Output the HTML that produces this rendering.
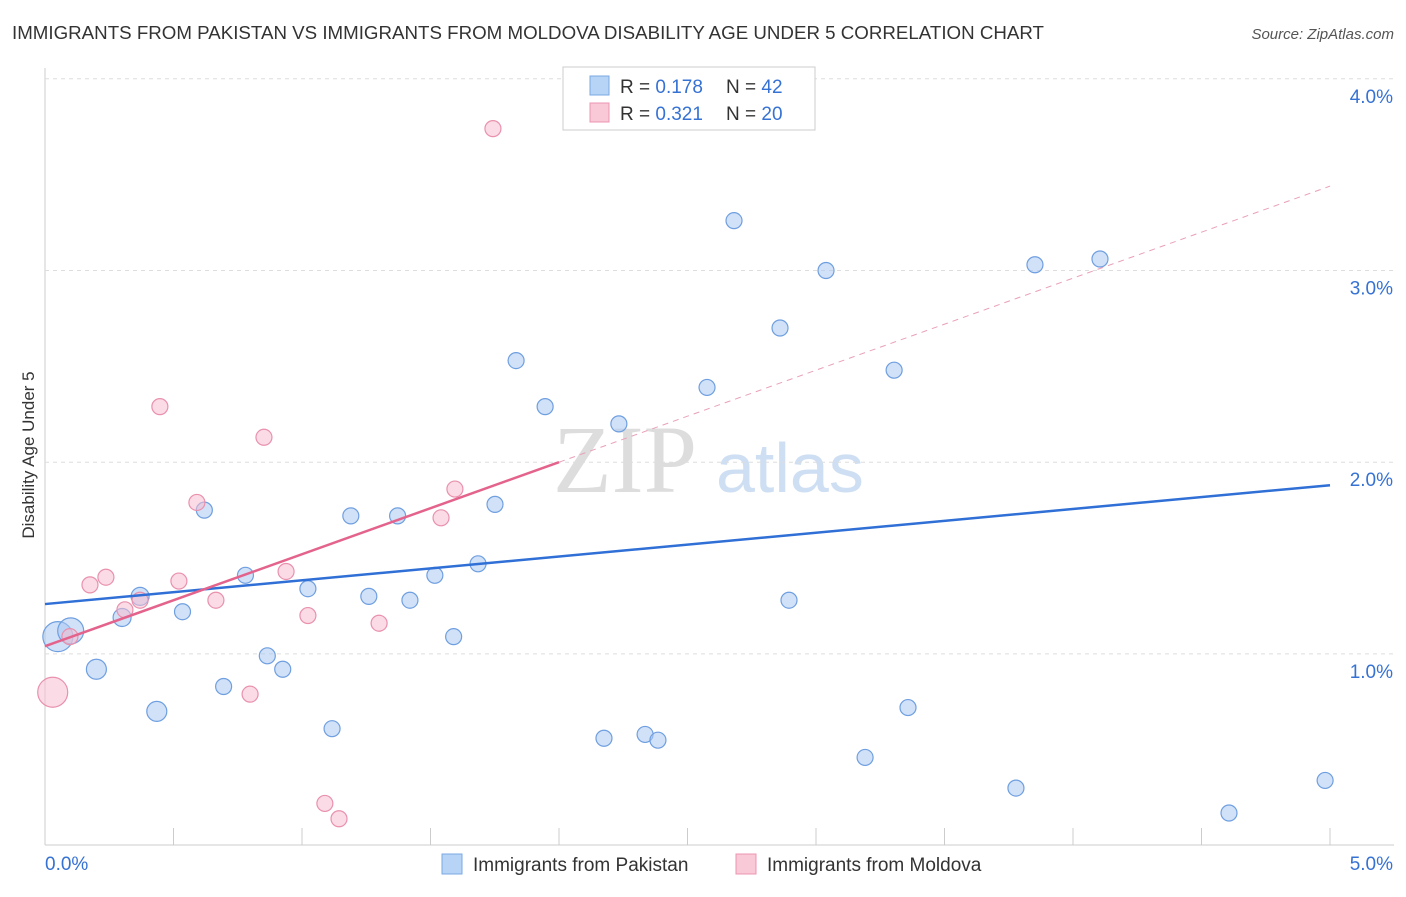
<!DOCTYPE html>
<html><head><meta charset="utf-8"><style>
body{margin:0;background:#fff;font-family:"Liberation Sans",sans-serif}
</style></head><body>
<svg id="c" width="1406" height="892" xmlns="http://www.w3.org/2000/svg" font-family="Liberation Sans, sans-serif">
<text x="12" y="39" font-size="18" fill="#333" textLength="1032" lengthAdjust="spacingAndGlyphs">IMMIGRANTS FROM PAKISTAN VS IMMIGRANTS FROM MOLDOVA DISABILITY AGE UNDER 5 CORRELATION CHART</text>
<text x="1394" y="39" font-size="15" fill="#555" text-anchor="end" font-style="italic">Source: ZipAtlas.com</text>
<text x="34" y="455" font-size="17" fill="#333" transform="rotate(-90 34 455)" text-anchor="middle">Disability Age Under 5</text>
<text x="553" y="492" font-size="96" fill="#ddd" font-family="Liberation Serif, serif">ZIP</text>
<text x="716" y="492" font-size="70" fill="#cfdff3">atlas</text>
<g id="grid"></g><g id="marks"></g>
<g>
<rect x="563" y="67" width="252" height="63" fill="#fff" stroke="#ccc"/>
<rect x="590" y="76" width="19" height="19" fill="#b7d3f5" stroke="#7aa9e4"/>
<rect x="590" y="103" width="19" height="19" fill="#f9c9d7" stroke="#ec95b0"/>
<text x="620" y="93" font-size="19" fill="#333">R = <tspan fill="#3672d4">0.178</tspan></text>
<text x="726" y="93" font-size="19" fill="#333">N = <tspan fill="#3672d4">42</tspan></text>
<text x="620" y="120" font-size="19" fill="#333">R = <tspan fill="#3672d4">0.321</tspan></text>
<text x="726" y="120" font-size="19" fill="#333">N = <tspan fill="#3672d4">20</tspan></text>
</g>
<g>
<rect x="442" y="854" width="20" height="20" fill="#b7d3f5" stroke="#7aa9e4"/>
<text x="473" y="871" font-size="19" fill="#333">Immigrants from Pakistan</text>
<rect x="736" y="854" width="20" height="20" fill="#f9c9d7" stroke="#ec95b0"/>
<text x="767" y="871" font-size="19" fill="#333">Immigrants from Moldova</text>
</g>
</svg>
<script>
const yTicks=[1,2,3,4];
const xTickLabels=["0.0%","5.0%"];
const pakX=[0.05,0.1,0.2,0.3,0.37,0.435,0.535,0.62,0.695,0.78,0.865,0.925,1.023,1.117,1.19,1.26,1.372,1.42,1.517,1.59,1.685,1.751,1.833,1.946,2.175,2.233,2.335,2.385,2.576,2.681,2.86,2.895,3.039,3.191,3.304,3.358,3.778,3.852,4.105,4.607,4.981];
const pakY=[1.09,1.12,0.92,1.19,1.3,0.7,1.22,1.75,0.83,1.41,0.99,0.92,1.34,0.61,1.72,1.3,1.72,1.28,1.41,1.09,1.47,1.78,2.53,2.29,0.56,2.2,0.58,0.55,2.39,3.26,2.7,1.28,3.0,0.46,2.48,0.72,0.3,3.03,3.06,0.17,0.34];
const pakR=[15,13,10,9,9,10,8,8,8,8,8,8,8,8,8,8,8,8,8,8,8,8,8,8,8,8,8,8,8,8,8,8,8,8,8,8,8,8,8,8,8];
const molX=[0.03,0.097,0.175,0.237,0.311,0.37,0.447,0.521,0.591,0.665,0.798,0.852,0.938,1.023,1.089,1.144,1.3,1.541,1.595,1.743];
const molY=[0.8,1.09,1.36,1.4,1.23,1.28,2.29,1.38,1.79,1.28,0.79,2.13,1.43,1.2,0.22,0.14,1.16,1.71,1.86,3.74];
const molR=[15,8,8,8,8,8,8,8,8,8,8,8,8,8,8,8,8,8,8,8];
const pakTrend=[0,1.26,5,1.88];
const molTrend=[0,1.04,2,2.0,5,3.44];
const X=v=>45+v*257, Y=v=>845.6-v*191.7;
const NS="http://www.w3.org/2000/svg";
const grid=document.getElementById('grid'), marks=document.getElementById('marks');
function mk(p,tag,a){const e=document.createElementNS(NS,tag);for(const k in a)e.setAttribute(k,a[k]);p.appendChild(e);return e;}
let ax=mk(grid,'line',{x1:45,y1:845,x2:1394,y2:845,stroke:'#ccc'});


let ay=mk(grid,'line',{x1:45,y1:68,x2:45,y2:845,stroke:'#ccc'});


for(let i=0;i<=10;i++){const t=mk(grid,'line',{x1:X(i*0.5),y1:828,x2:X(i*0.5),y2:845,stroke:'#ccc'});

}
yTicks.forEach(v=>{const l=mk(grid,'line',{x1:45,y1:Y(v),x2:1394,y2:Y(v),stroke:'#ddd','stroke-dasharray':'4,4'});


const t=mk(grid,'text',{x:1393,y:Y(v)+24,'font-size':19,fill:'#3672d4','text-anchor':'end'});t.textContent=v.toFixed(1)+'%';

});
xTickLabels.forEach((s,i)=>{const t=mk(grid,'text',{x:i?1393:45,y:870,'font-size':19,fill:'#3672d4','text-anchor':i?'end':'start'});t.textContent=s;

});
pakX.forEach((x,i)=>{const c=mk(marks,'circle',{cx:X(x),cy:Y(pakY[i]),r:pakR[i],fill:'rgba(170,200,242,0.55)',stroke:'#6f9fe0','stroke-width':1.2});

});
molX.forEach((x,i)=>{const c=mk(marks,'circle',{cx:X(x),cy:Y(molY[i]),r:molR[i],fill:'rgba(248,190,208,0.55)',stroke:'#e991ad','stroke-width':1.2});

});
let l1=mk(marks,'line',{x1:X(pakTrend[0]),y1:Y(pakTrend[1]),x2:X(pakTrend[2]),y2:Y(pakTrend[3]),stroke:'#2f6fd6','stroke-width':2.5});


let l2=mk(marks,'line',{x1:X(molTrend[0]),y1:Y(molTrend[1]),x2:X(molTrend[2]),y2:Y(molTrend[3]),stroke:'#e4638c','stroke-width':2.5});


let l3=mk(marks,'line',{x1:X(molTrend[2]),y1:Y(molTrend[3]),x2:X(molTrend[4]),y2:Y(molTrend[5]),stroke:'#e9a0b8','stroke-width':1,'stroke-dasharray':'6,5'});


</script>
</body></html>
